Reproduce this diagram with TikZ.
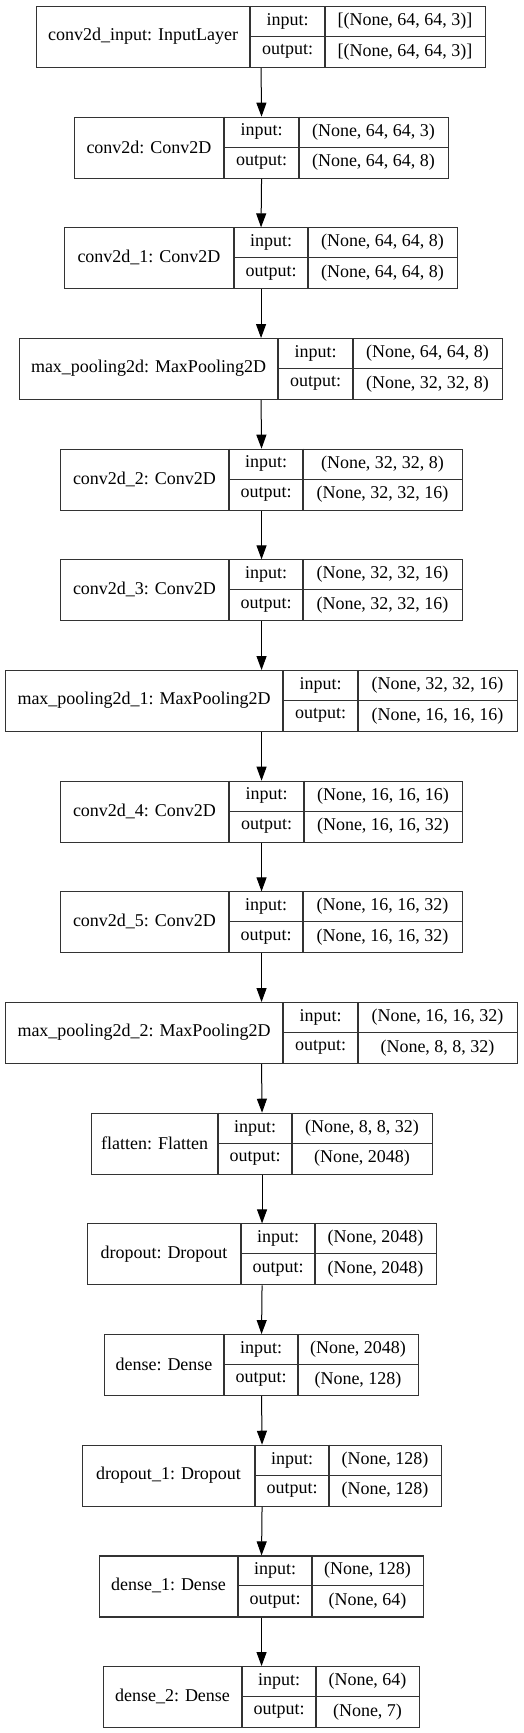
\documentclass[tikz,border=0pt]{standalone}
\usepackage{fontspec}
\setmainfont{Liberation Serif}
\usetikzlibrary{arrows.meta}
\begin{document}
\begin{tikzpicture}[x=1pt,y=-1pt,
  font=\fontsize{18}{21}\selectfont,
  layerbox/.style={draw=black!80, line width=1.1pt, inner sep=0pt, anchor=north west},
  rule/.style={draw=black!80, line width=1.1pt},
  flow/.style={line width=1pt, -{Triangle[length=14pt,width=10pt]}}]
\useasboundingbox (0,0) rectangle (523,1733);
% one row per layer: name/left/port/value/right/label/in/out
\foreach \n/\l/\a/\b/\r/\txt/\vin/\vout [count=\i from 0] in {
  inp/36/250/325/485/{conv2d\_input: InputLayer}/{[(None, 64, 64, 3)]}/{[(None, 64, 64, 3)]},
  c0/74/224/299/448/{conv2d: Conv2D}/{(None, 64, 64, 3)}/{(None, 64, 64, 8)},
  c1/64/234/308/457/{conv2d\_1: Conv2D}/{(None, 64, 64, 8)}/{(None, 64, 64, 8)},
  mp0/19/278/353/502/{max\_pooling2d: MaxPooling2D}/{(None, 64, 64, 8)}/{(None, 32, 32, 8)},
  c2/60/229/303/462/{conv2d\_2: Conv2D}/{(None, 32, 32, 8)}/{(None, 32, 32, 16)},
  c3/60/229/303/462/{conv2d\_3: Conv2D}/{(None, 32, 32, 16)}/{(None, 32, 32, 16)},
  mp1/5/283/358/517/{max\_pooling2d\_1: MaxPooling2D}/{(None, 32, 32, 16)}/{(None, 16, 16, 16)},
  c4/60/229/304/462/{conv2d\_4: Conv2D}/{(None, 16, 16, 16)}/{(None, 16, 16, 32)},
  c5/60/229/303/462/{conv2d\_5: Conv2D}/{(None, 16, 16, 32)}/{(None, 16, 16, 32)},
  mp2/5/283/358/517/{max\_pooling2d\_2: MaxPooling2D}/{(None, 16, 16, 32)}/{(None, 8, 8, 32)},
  flat/91/218/292/432/{flatten: Flatten}/{(None, 8, 8, 32)}/{(None, 2048)},
  drop0/87/241/315/436/{dropout: Dropout}/{(None, 2048)}/{(None, 2048)},
  dense0/104/224/298/418/{dense: Dense}/{(None, 2048)}/{(None, 128)},
  drop1/82/255/329/441/{dropout\_1: Dropout}/{(None, 128)}/{(None, 128)},
  dense1/99/238/312/423/{dense\_1: Dense}/{(None, 128)}/{(None, 64)},
  dense2/103/242/316/419/{dense\_2: Dense}/{(None, 64)}/{(None, 7)}}
{
  \pgfmathsetmacro\yt{6+\i*110.67}
  \pgfmathsetmacro\w{\r-\l}
  \node[layerbox, minimum width=\w pt, minimum height=61pt] (\n) at (\l,\yt) {};
  \node (\n-name) at ({(\l+\a)/2},\yt+30.5) {\txt};
  \node (\n-pin) at ({(\a+\b)/2},\yt+15.25) {input:};
  \node (\n-pout) at ({(\a+\b)/2},\yt+45.75) {output:};
  \node (\n-vin) at ({(\b+\r)/2},\yt+15.25) {\vin};
  \node (\n-vout) at ({(\b+\r)/2},\yt+45.75) {\vout};
  \path[rule] (\a,\yt) -- (\a,\yt+61) (\b,\yt) -- (\b,\yt+61)
    (\a,\yt+30.5) -- (\r,\yt+30.5);
}
\foreach \s/\t in {inp/c0, c0/c1, c1/mp0, mp0/c2, c2/c3, c3/mp1, mp1/c4, c4/c5,
  c5/mp2, mp2/flat, flat/drop0, drop0/dense0, dense0/drop1, drop1/dense1, dense1/dense2}
  \draw[flow] (\s.south) -- (\t.north);
\end{tikzpicture}
\end{document}
